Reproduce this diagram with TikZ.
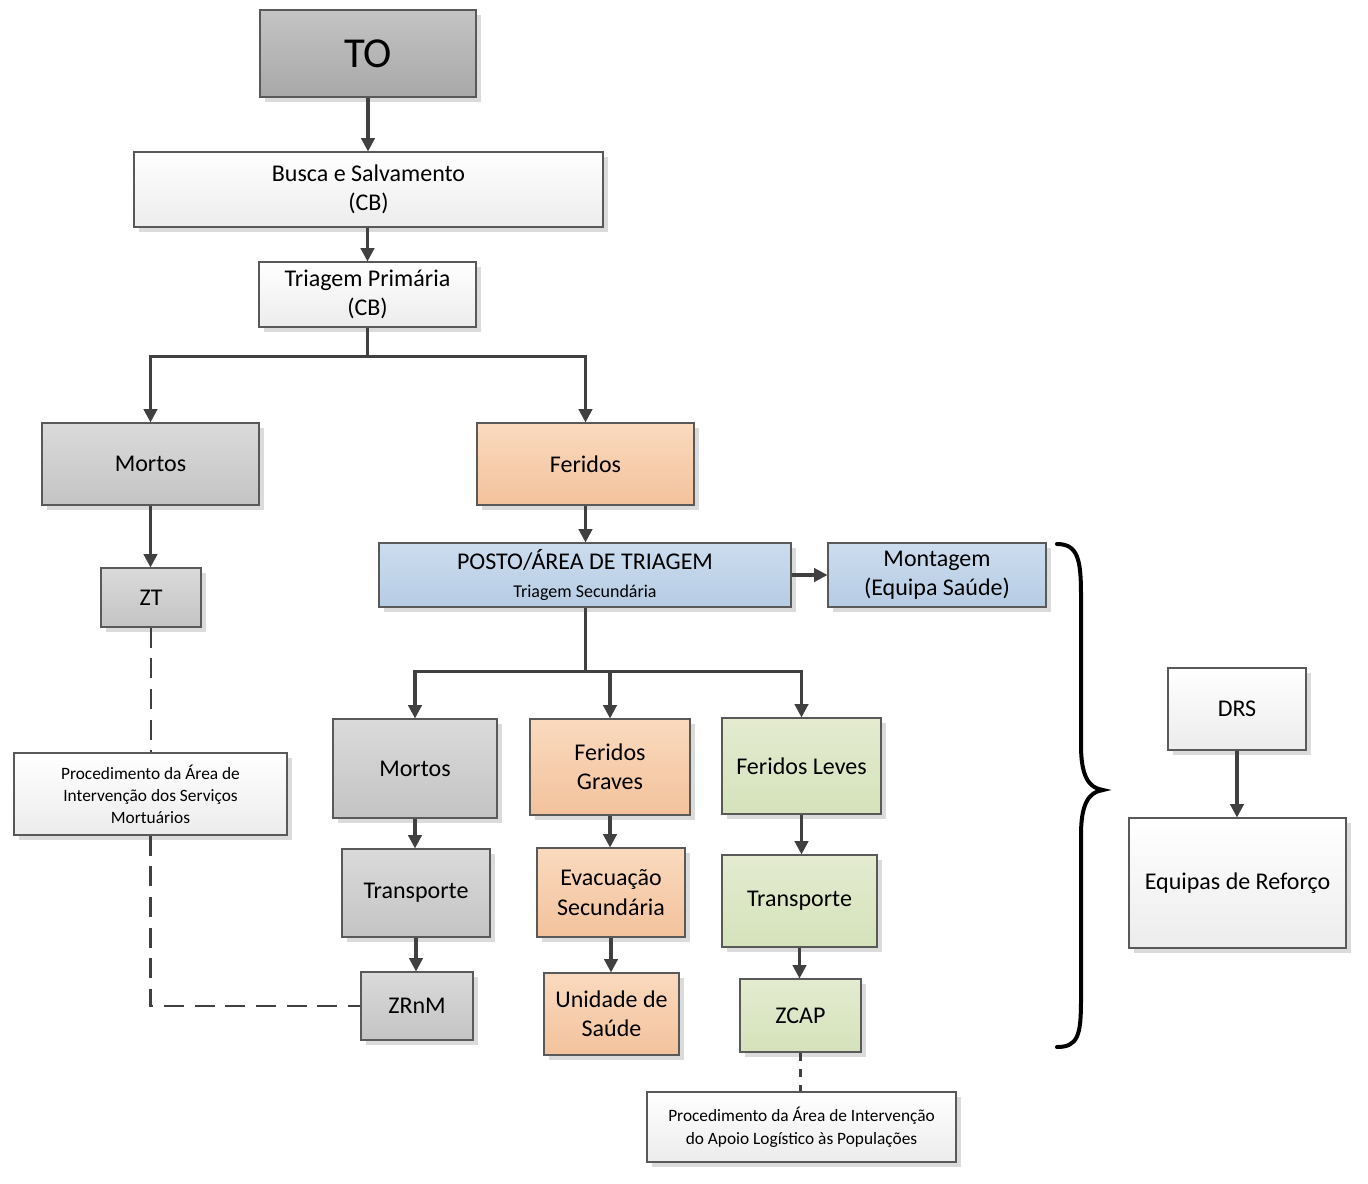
\documentclass[tikz,border=0pt]{standalone}
\usepackage{fontspec}
\setmainfont{Carlito}
\usetikzlibrary{arrows.meta,shadows}
\definecolor{bordc}{RGB}{89,89,89}
\definecolor{linec}{RGB}{64,64,64}
\definecolor{grT}{RGB}{218,218,218}
\definecolor{grB}{RGB}{196,196,196}
\definecolor{toT}{RGB}{196,196,196}
\definecolor{toB}{RGB}{168,168,168}
\definecolor{orT}{RGB}{250,218,190}
\definecolor{orB}{RGB}{243,194,156}
\definecolor{blT}{RGB}{203,220,238}
\definecolor{blB}{RGB}{182,204,228}
\definecolor{gnT}{RGB}{228,235,208}
\definecolor{gnB}{RGB}{213,226,186}
\definecolor{whT}{RGB}{255,255,255}
\definecolor{whB}{RGB}{236,236,236}
\newcommand\mybox[7]{\node[boxbase,#6,minimum width={(#4-#2)*0.75pt},minimum height={(#5-#3)*0.75pt}] (#1) at ({(#2+#4)/2},{(#3+#5)/2}) {#7};}
\tikzset{
  boxbase/.style={draw=bordc,line width=0.8pt,inner sep=0pt,align=center,
    font=\fontsize{18}{22}\selectfont,
    drop shadow={shadow xshift=3.5pt,shadow yshift=-3.5pt,fill=black!14,opacity=1}},
  grbox/.style={top color=grT,bottom color=grB},
  tobox/.style={top color=toT,bottom color=toB},
  orbox/.style={top color=orT,bottom color=orB},
  blbox/.style={top color=blT,bottom color=blB},
  gnbox/.style={top color=gnT,bottom color=gnB},
  whbox/.style={top color=whT,bottom color=whB},
  arr/.style={draw=linec,line width=2.3pt,-{Triangle[length=10pt,width=10pt]}},
  dline/.style={draw=linec,line width=2pt,dash pattern=on 15pt off 8pt},
  dlineb/.style={draw=linec,line width=2pt,dash pattern=on 6pt off 6pt},
}
\begin{document}
\begin{tikzpicture}[x=0.75pt,y=-0.75pt]
\useasboundingbox[fill=white] (0,0) rectangle (1368,1183);
\mybox{to}{260}{10}{476}{97}{tobox,font=\fontsize{32}{38}\selectfont}{TO}
\mybox{busca}{134}{152}{603}{227}{whbox}{Busca e Salvamento\\(CB)}
\mybox{trip}{259}{262}{476}{327}{whbox}{Triagem Primária\\(CB)}
\mybox{mortosA}{42}{423}{259}{505}{grbox}{Mortos}
\mybox{feridos}{477}{423}{694}{505}{orbox}{Feridos}
\mybox{zt}{101}{568}{201}{627}{grbox}{ZT}
\mybox{posto}{379}{543}{791}{607}{blbox}{POSTO/ÁREA DE TRIAGEM\\[-1pt]{\fontsize{13.5}{16}\selectfont Triagem Secundária}}
\mybox{montagem}{828}{543}{1046}{607}{blbox}{Montagem\\(Equipa Saúde)}
\mybox{procA}{14}{753}{287}{835}{whbox,font=\fontsize{13}{16.5}\selectfont}{Procedimento da Área de\\Intervenção dos Serviços\\Mortuários}
\mybox{mortosB}{333}{719}{497}{818}{grbox}{Mortos}
\mybox{graves}{530}{719}{690}{815}{orbox}{Feridos\\Graves}
\mybox{leves}{722}{718}{881}{814}{gnbox}{Feridos Leves}
\mybox{transA}{342}{849}{490}{937}{grbox}{Transporte}
\mybox{evac}{537}{848}{685}{937}{orbox}{Evacuação\\Secundária}
\mybox{transB}{722}{855}{877}{947}{gnbox}{Transporte}
\mybox{zrnm}{361}{972}{473}{1040}{grbox}{ZRnM}
\mybox{unidade}{544}{973}{679}{1055}{orbox}{Unidade de\\Saúde}
\mybox{zcap}{740}{979}{861}{1052}{gnbox}{ZCAP}
\mybox{procB}{647}{1092}{956}{1162}{whbox,font=\fontsize{13}{17.5}\selectfont}{Procedimento da Área de Intervenção\\do Apoio Logístico às Populações}
\mybox{drs}{1168}{668}{1306}{750}{whbox}{DRS}
\mybox{equipas}{1129}{818}{1346}{948}{whbox}{Equipas de Reforço}
% arrows
\draw[arr] (to.south) -- (to.south |- busca.north);
\draw[arr] (busca.south -| trip.north) -- (trip.north);
\draw[arr] (trip.south) -- ++(0,29) -| (mortosA.north);
\draw[arr] (trip.south) -- ++(0,29) -| (feridos.north);
\draw[arr] (mortosA.south) -- (mortosA.south |- zt.north);
\draw[arr] (feridos.south) -- (feridos.south |- posto.north);
\draw[arr] (posto.east |- montagem.west) -- (montagem.west);
\draw[arr] (posto.south -| feridos.south) -- ++(0,64) -| (mortosB.north);
\draw[arr] (posto.south -| feridos.south) -- ++(0,64) -| (graves.north);
\draw[arr] (posto.south -| feridos.south) -- ++(0,64) -| (leves.north);
\draw[arr] (mortosB.south) -- (mortosB.south |- transA.north);
\draw[arr] (graves.south) -- (graves.south |- evac.north);
\draw[arr] (leves.south) -- (leves.south |- transB.north);
\draw[arr] (transA.south) -- (transA.south |- zrnm.north);
\draw[arr] (evac.south) -- (evac.south |- unidade.north);
\draw[arr] (transB.south) -- (transB.south |- zcap.north);
\draw[arr] (drs.south) -- (drs.south |- equipas.north);
% dashed
\draw[dline] (zt.south) -- (zt.south |- procA.north);
\draw[dline] (procA.south) |- (zrnm.west);
\draw[dlineb] (zcap.south) -- (zcap.south |- procB.north);
% brace
\draw[line width=3pt,line cap=round] (1057,544) .. controls (1078,544) and (1081,560) .. (1081,595) -- (1081,745) .. controls (1081,775) and (1088,788) .. (1103,790) .. controls (1088,792) and (1081,805) .. (1081,835) -- (1081,1000) .. controls (1081,1035) and (1078,1047) .. (1057,1047);
\end{tikzpicture}
\end{document}
